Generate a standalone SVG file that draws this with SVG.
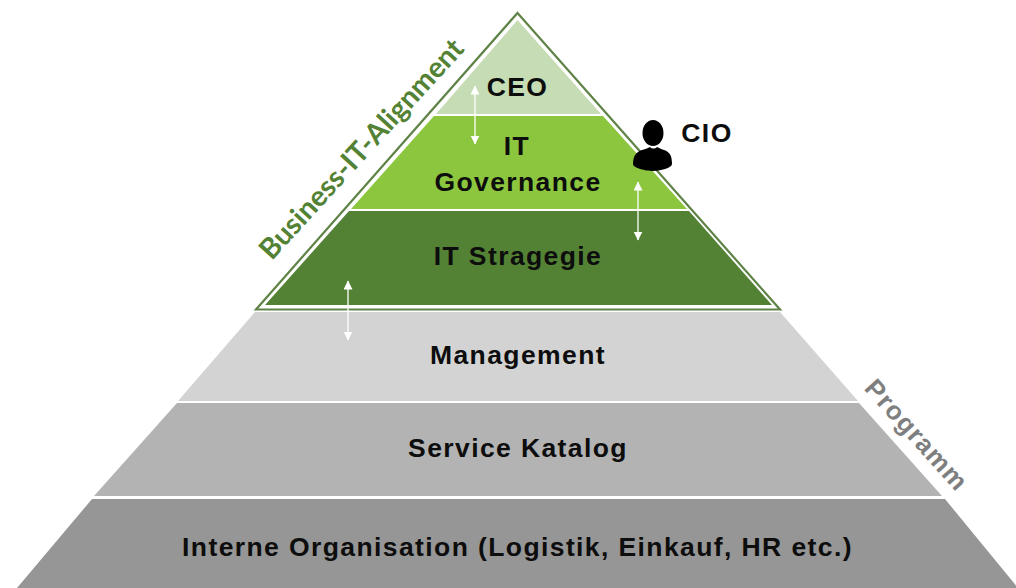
<svg xmlns="http://www.w3.org/2000/svg" width="1016" height="588" viewBox="0 0 1016 588">
<style>
.t{font-family:"Liberation Sans",Arial,sans-serif;font-weight:700;font-size:26.500px;letter-spacing:1.4px;fill:#0d0d0d;text-anchor:middle}
.a{stroke:#fff;stroke-width:1.3;fill:none;marker-start:url(#h);marker-end:url(#h)}
</style>
<defs>
<marker id="h" markerUnits="userSpaceOnUse" markerWidth="10" markerHeight="10" refX="8.500" refY="4.500" orient="auto-start-reverse"><path d="M0 0L9 4.500L0 9Z" fill="#fff"/></marker>
</defs>
<rect width="1016" height="588" fill="#fff"/>
<g id="management"><path d="M255 312H780L858 401H178Z" fill="#d3d3d3"/><text class="t" x="518" y="364">Management</text></g>
<g id="service"><path d="M177 403H859L942 496H94Z" fill="#b3b3b3"/><text class="t" x="518" y="457">Service Katalog</text></g>
<g id="interne"><path d="M92 499H945L1018 588H17Z" fill="#969696"/><text class="t" x="517.500" y="556">Interne Organisation (Logistik, Einkauf, HR etc.)</text></g>
<g id="outline"><path d="M517.500 13L780 309.500H256Z" fill="#fff" stroke="#5f8347" stroke-width="2.200"/></g>
<g id="ceo"><path d="M517.500 20L601 114H436Z" fill="#c5dcb4"/><text class="t" x="517.500" y="96">CEO</text></g>
<g id="governance"><path d="M434 116H603L687 209H351Z" fill="#8cc63e"/><text class="t" x="517" y="155">IT</text><text class="t" x="518" y="191">Governance</text></g>
<g id="strategie"><path d="M349 211H689L772 305H265Z" fill="#548235"/><text class="t" x="518" y="265">IT Stragegie</text></g>
<g id="cio">
<ellipse cx="653" cy="133" rx="10.500" ry="13" fill="#000"/>
<path d="M633 164C633 156 636 152 642 150C646 149 648 148 650 147C652 149 655 149 657 147C659 148 661 149 664 150C670 152 672 156 672 164C672 168 660 171 653 171C646 171 633 168 633 164Z" fill="#000"/>
<text class="t" x="707" y="142">CIO</text>
</g>
<g id="connectors">
<path class="a" d="M475 86V144"/>
<path class="a" d="M638 182V240"/>
<path class="a" d="M348 281V340"/>
</g>
<g id="labels">
<text transform="translate(368.500 155.500) rotate(-47.500)" text-anchor="middle" style="font-family:Lato,Carlito,sans-serif;font-weight:700;font-size:28.500px;fill:#548235">Business-IT-Alignment</text>
<text transform="translate(910 441) rotate(48)" text-anchor="middle" style="font-family:'Liberation Sans',sans-serif;font-weight:700;font-size:26px;letter-spacing:1.200px;fill:#7f7f7f">Programm</text>
</g>
</svg>
